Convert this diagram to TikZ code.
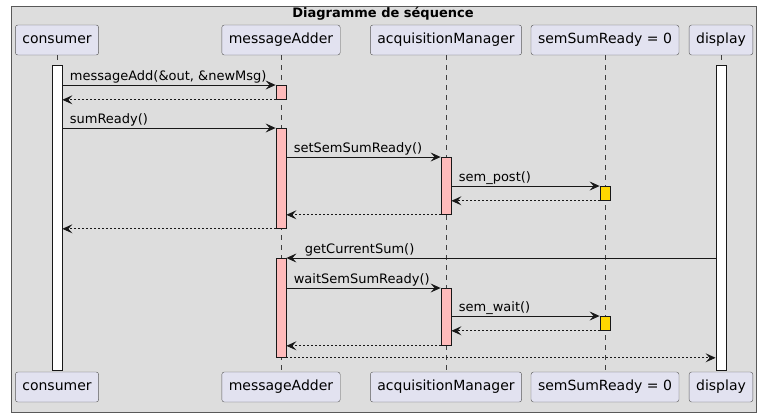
\documentclass[tikz,border=0pt]{standalone}
\usepackage{fontspec}
\setmainfont{DejaVu Sans}
\usetikzlibrary{arrows.meta, positioning}

\definecolor{framebg}{HTML}{DDDDDD}
\definecolor{partbg}{HTML}{E2E2F0}
\definecolor{actpink}{HTML}{FFBBBB}
\definecolor{actyellow}{HTML}{FFD700}
\definecolor{linedark}{HTML}{181818}

\begin{document}
\begin{tikzpicture}[x=1pt, y=-1pt,
    part/.style={draw=gray!70!black, fill=partbg, rounded corners=2.5pt, minimum height=30pt, inner xsep=7pt, font=\fontsize{14}{16}\selectfont},
    life/.style={draw=gray!50!black, dash pattern=on 5pt off 5pt, line width=0.5pt},
    bar/.style={draw=linedark, fill=actpink, line width=0.8pt, minimum width=10pt, inner sep=0pt, anchor=north},
    msg/.style={draw=linedark, line width=0.9pt, -{Stealth[length=10pt, width=9pt, inset=4pt]}},
    ret/.style={msg, dash pattern=on 2pt off 2pt},
    lbl/.style={font=\fontsize{13}{15}\selectfont, inner sep=1pt, anchor=south west}]

    \useasboundingbox (0,0) rectangle (762,418);
    \draw[draw=gray!70!black, fill=framebg] (11,6) rectangle (756,412);
    \node[font=\bfseries\fontsize{13}{15}\selectfont] (title) at (383,14) {Diagramme de séquence};

    % participants
    \node[part] (consT) at (57,40) {consumer};
    \node[part] (addT) at (281,40) {messageAdder};
    \node[part] (acqT) at (446,40) {acquisitionManager};
    \node[part] (semT) at (605,40) {semSumReady = 0};
    \node[part] (dispT) at (721,40) {display};
    \node[part] (consB) at (57,387) {consumer};
    \node[part] (addB) at (281,387) {messageAdder};
    \node[part] (acqB) at (446,387) {acquisitionManager};
    \node[part] (semB) at (605,387) {semSumReady = 0};
    \node[part] (dispB) at (721,387) {display};

    \draw[life] (consT) -- (consB);
    \draw[life] (addT) -- (addB);
    \draw[life] (acqT) -- (acqB);
    \draw[life] (semT) -- (semB);
    \draw[life] (dispT) -- (dispB);

    % activations
    \node[bar, fill=white, minimum height=305pt] (consA) at (57,65) {};
    \node[bar, fill=white, minimum height=305pt] (dispA) at (721,65) {};
    \node[bar, minimum height=14pt] (addA1) at (281,85) {};
    \node[bar, minimum height=100pt] (addA2) at (281,128) {};
    \node[bar, minimum height=57pt] (acqA1) at (446,157) {};
    \node[bar, fill=actyellow, minimum height=14pt] (semA1) at (605,186) {};
    \node[bar, minimum height=99pt] (addA3) at (281,258) {};
    \node[bar, minimum height=57pt] (acqA2) at (446,288) {};
    \node[bar, fill=actyellow, minimum height=14pt] (semA2) at (605,316) {};

    % messages
    \draw[msg] (consA.east |- addA1.north) -- node[lbl, at start, xshift=6pt] {messageAdd(\&out, \&newMsg)} (addA1.north west);
    \draw[ret] (addA1.south west) -- (consA.east |- addA1.south);
    \draw[msg] (consA.east |- addA2.north) -- node[lbl, at start, xshift=6pt] {sumReady()} (addA2.north west);
    \draw[msg] (addA2.east |- acqA1.north) -- node[lbl, at start, xshift=6pt] {setSemSumReady()} (acqA1.north west);
    \draw[msg] (acqA1.east |- semA1.north) -- node[lbl, at start, xshift=6pt] {sem\_post()} (semA1.north west);
    \draw[ret] (semA1.south west) -- (acqA1.east |- semA1.south);
    \draw[ret] (acqA1.south west) -- (addA2.east |- acqA1.south);
    \draw[ret] (addA2.south west) -- (consA.east |- addA2.south);
    \draw[msg] (dispA.west |- addA3.north) -- node[lbl, at end, xshift=17pt] {getCurrentSum()} (addA3.north east);
    \draw[msg] (addA3.east |- acqA2.north) -- node[lbl, at start, xshift=6pt] {waitSemSumReady()} (acqA2.north west);
    \draw[msg] (acqA2.east |- semA2.north) -- node[lbl, at start, xshift=6pt] {sem\_wait()} (semA2.north west);
    \draw[ret] (semA2.south west) -- (acqA2.east |- semA2.south);
    \draw[ret] (acqA2.south west) -- (addA3.east |- acqA2.south);
    \draw[ret] (addA3.south east) -- (dispA.west |- addA3.south);

\end{tikzpicture}
\end{document}
